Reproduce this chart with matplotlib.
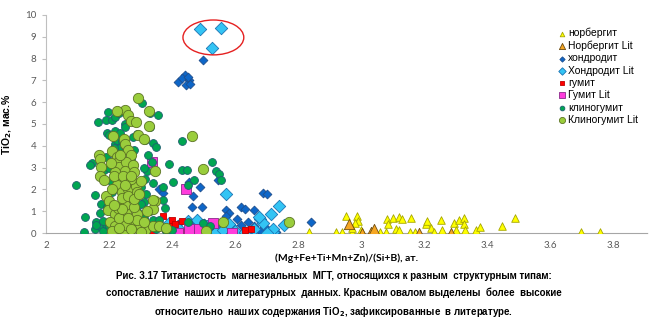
import matplotlib

matplotlib.use("Agg")
import matplotlib.pyplot as plt
from matplotlib import font_manager
from matplotlib.patches import Ellipse
from matplotlib.ticker import MultipleLocator

# data: x = (Mg+Fe+Ti+Mn+Zn)/(Si+B), y = TiO2 wt.%
norb_x = [2.835, 2.92, 2.951, 2.988, 2.99, 2.98, 2.94, 2.97, 3.0, 3.083, 3.085, 3.10, 3.12, 3.13,
          3.157, 3.08, 3.11, 3.12, 3.155, 3.17, 3.205, 3.21, 3.22, 3.23, 3.254, 3.257, 3.294,
          3.30, 3.31, 3.326, 3.326, 3.33, 3.363, 3.377, 3.447, 3.487, 3.698, 3.759, 2.97, 3.06]
norb_y = [0.03, 0.03, 0.78, 0.78, 0.53, 0.45, 0.03, 0.06, 0.13, 0.63, 0.41, 0.67, 0.74, 0.63,
          0.70, 0.03, 0.17, 0.13, 0.03, 0.03, 0.41, 0.55, 0.25, 0.03, 0.58, 0.13, 0.45,
          0.13, 0.61, 0.69, 0.43, 0.13, 0.13, 0.28, 0.34, 0.69, 0.03, 0.03, 0.25, 0.05]

norb_lit_x = [2.962, 3.004, 3.03, 3.04, 3.184, 3.284]
norb_lit_y = [0.42, 0.02, 0.05, 0.18, 0.02, 0.02]

chon_x = [2.498, 2.419, 2.44, 2.454, 2.445, 2.458, 2.43, 2.45, 2.487, 2.466, 2.464, 2.496,
          2.572, 2.58, 2.605, 2.62, 2.63, 2.66, 2.688, 2.70, 2.454, 2.36, 2.37, 2.545, 2.57,
          2.64, 2.66, 2.84, 2.40, 2.42, 2.47, 2.52, 2.55, 2.60, 2.62, 2.68, 2.50, 2.56, 2.45,
          2.38, 2.48, 2.53, 2.59, 2.65, 2.70, 2.73]
chon_y = [7.94, 6.94, 7.25, 7.02, 6.79, 6.83, 7.10, 7.15, 2.12, 1.71, 1.21, 1.21,
          1.06, 0.90, 0.64, 1.21, 1.10, 1.05, 1.85, 1.78, 2.35, 2.00, 1.85, 2.43, 0.80,
          0.50, 0.30, 0.52, 0.20, 0.40, 0.30, 0.10, 0.25, 0.15, 0.35, 0.10, 0.45, 0.05, 0.05,
          0.10, 0.60, 0.40, 0.30, 0.05, 0.20, 0.05]

chon_lit_x = [2.49, 2.556, 2.526, 2.572, 2.74, 2.714, 2.68, 2.69, 2.756, 2.72, 2.54, 2.677,
              2.72, 2.56, 2.45, 2.48, 2.51, 2.60, 2.63, 2.66, 2.42, 2.39, 2.58, 2.47, 2.70]
chon_lit_y = [9.34, 9.39, 8.47, 1.80, 1.22, 0.86, 0.64, 0.44, 0.38, 0.06, 0.05, 0.75,
              0.20, 0.15, 0.55, 0.60, 0.30, 0.10, 0.05, 0.20, 0.25, 0.45, 0.40, 0.10, 0.02]

hum_x = [2.35, 2.40, 2.43, 2.40, 2.63, 2.65, 2.34, 2.287, 2.35, 2.30, 2.37, 2.41, 2.28, 2.44]
hum_y = [0.55, 0.58, 0.55, 0.30, 0.14, 0.20, 0.05, 0.52, 0.52, 0.10, 0.80, 0.40, 0.70, 0.05]

hum_lit_x = [2.336, 2.443, 2.454, 2.485, 2.53, 2.59, 2.42]
hum_lit_y = [3.24, 2.00, 0.18, 0.17, 0.48, 0.01, 0.00]

clin_x = [2.095, 2.123, 2.12, 2.155, 2.145, 2.14, 2.166, 2.197, 2.192, 2.20, 2.19, 2.21,
          2.22, 2.23, 2.25, 2.25, 2.19, 2.22, 2.225, 2.24, 2.235, 2.21, 2.176, 2.17, 2.16,
          2.155, 2.17, 2.18, 2.19, 2.303, 2.33, 2.355, 2.33, 2.29, 2.315, 2.34, 2.35, 2.325,
          2.335, 2.39, 2.371, 2.403, 2.43, 2.447, 2.43, 2.47, 2.45, 2.527, 2.538, 2.55,
          2.556, 2.377, 2.37, 2.318, 2.31, 2.30, 2.498, 2.315, 2.32, 2.20, 2.21, 2.23, 2.26,
          2.28, 2.30, 2.32, 2.34, 2.36, 2.38, 2.24, 2.27, 2.21, 2.29, 2.31, 2.35, 2.45, 2.52,
          2.22, 2.25, 2.28, 2.195, 2.205, 2.215, 2.265, 2.245, 2.30, 2.33, 2.40,
          2.16, 2.18, 2.185, 2.20, 2.215, 2.235, 2.275, 2.31, 2.34, 2.36]
clin_y = [2.20, 0.75, 0.05, 1.75, 3.20, 3.10, 5.10, 5.57, 4.60, 4.50, 5.20, 5.20,
          5.30, 5.50, 5.00, 4.85, 3.50, 4.10, 4.25, 4.20, 3.90, 3.30, 1.33, 0.90, 0.50,
          0.20, 0.30, 0.10, 0.40, 5.95, 5.50, 5.40, 4.85, 4.55, 4.28, 4.11, 3.95, 3.60,
          3.25, 3.16, 2.13, 2.35, 2.89, 2.87, 4.21, 2.45, 2.20, 3.27, 2.85, 2.70,
          2.44, 1.13, 1.50, 1.78, 1.40, 1.35, 0.44, 2.50, 2.85, 0.30, 0.10, 0.60, 0.10,
          0.30, 0.50, 0.20, 0.60, 0.40, 0.10, 2.60, 3.40, 1.90, 1.00, 0.70, 0.20, 0.50, 0.30,
          4.70, 4.00, 3.80, 1.20, 2.40, 0.70, 1.60, 2.90, 2.10, 1.00, 0.15,
          0.35, 0.55, 2.90, 3.00, 3.90, 4.60, 4.40, 3.00, 2.30, 0.60]

clin_lit_x = [2.292, 2.326, 2.326, 2.25, 2.225, 2.26, 2.27, 2.285, 2.213, 2.247, 2.292, 2.31,
              2.464, 2.169, 2.17, 2.175, 2.17, 2.185, 2.21, 2.225, 2.23, 2.23, 2.252, 2.26,
              2.27, 2.255, 2.25, 2.22, 2.276, 2.28, 2.24, 2.225, 2.24, 2.26, 2.287, 2.30,
              2.19, 2.20, 2.197, 2.218, 2.228, 2.255, 2.25, 2.277, 2.288, 2.202, 2.22, 2.235,
              2.25, 2.265, 2.297, 2.313, 2.34, 2.345, 2.34, 2.345, 2.498, 2.563, 2.77, 2.36,
              2.38, 2.508, 2.34, 2.24, 2.21, 2.26, 2.28, 2.23, 2.245, 2.265, 2.30, 2.32,
              2.205, 2.215, 2.245, 2.27, 2.29, 2.235, 2.255,
              2.21, 2.23, 2.27, 2.29, 2.31, 2.24, 2.26, 2.28, 2.215, 2.295, 2.25, 2.27]
clin_lit_y = [6.20, 5.58, 4.90, 5.64, 5.60, 5.40, 5.15, 5.10, 4.45, 4.33, 4.50, 4.30,
              4.46, 3.58, 3.40, 3.05, 2.60, 2.45, 3.75, 3.50, 3.30, 3.05, 4.10, 3.80,
              3.60, 3.25, 2.85, 2.80, 3.10, 2.80, 2.40, 2.20, 1.90, 2.00, 2.15, 2.40,
              1.70, 1.45, 1.05, 0.85, 1.15, 0.93, 1.30, 0.60, 0.85, 0.50, 0.30, 0.15,
              0.50, 0.15, 0.35, 0.15, 0.30, 1.45, 1.10, 2.85, 2.95, 0.50, 0.52, 0.30,
              0.25, 0.09, 1.50, 1.60, 2.00, 1.70, 1.20, 0.70, 0.05, 0.50, 0.05, 1.00,
              3.20, 2.60, 2.60, 2.50, 1.90, 3.60, 0.35,
              0.10, 0.25, 0.20, 0.60, 0.50, 1.10, 0.70, 1.55, 1.30, 1.80, 2.20, 2.60]

legend_labels = ["норбергит", "Норбергит Lit", "хондродит", "Хондродит Lit",
                 "гумит", "Гумит Lit", "клиногумит", "Клиногумит Lit"]

caption = ("Рис. 3.17 Титанистость  магнезиальных  МГТ, относящихся к разным  структурным типам:\n"
           "сопоставление  наших и литературных  данных. Красным овалом выделены  более  высокие\n"
           "относительно  наших содержания TiO$_\\mathbf{2}$, зафиксированные  в литературе.")

plt.rcParams["font.family"] = ["Liberation Sans", "DejaVu Sans"]

# narrow bold face for the caption if one is installed
installed = {f.name for f in font_manager.fontManager.ttflist}
cap_font, cap_size = "Liberation Sans", 7.0
for name, size in [("Liberation Sans Narrow", 8.6), ("DejaVu Sans Condensed", 7.6)]:
    if name in installed:
        cap_font, cap_size = name, size
        break

fig = plt.figure(figsize=(6.67, 3.23), dpi=100)
ax = fig.add_axes([0.069, 0.2786, 0.9025, 0.675])

series = [
    (norb_x, norb_y, "^", 30, "#FFFF00", "#A6A600"),
    (norb_lit_x, norb_lit_y, "^", 55, "#F5A623", "#6B4A10"),
    (chon_x, chon_y, "D", 20, "#0D66C8", "#1F4E8C"),
    (chon_lit_x, chon_lit_y, "D", 40, "#33C4F4", "#1A74B4"),
    (hum_x, hum_y, "s", 22, "#FF0000", "#C00000"),
    (hum_lit_x, hum_lit_y, "s", 60, "#FF3CDC", "#8A2A8A"),
    (clin_x, clin_y, "o", 32, "#00A651", "#1F5F70"),
    (clin_lit_x, clin_lit_y, "o", 55, "#9ACD3C", "#5C7424"),
]
for (xs, ys, m, s, fc, ec), lab in zip(series, legend_labels):
    ax.scatter(xs, ys, marker=m, s=s, facecolor=fc, edgecolor=ec, linewidth=0.6,
               label=lab, zorder=3)

ax.add_patch(Ellipse((2.531, 8.97), 0.193, 1.6, fill=False, edgecolor="#E52020", lw=1.0, zorder=4))

ax.set_xlim(2, 3.91)
ax.set_ylim(0, 10)
ax.yaxis.set_major_locator(MultipleLocator(1))
ax.set_xticks([2, 2.2, 2.4, 2.6, 2.8, 3, 3.2, 3.4, 3.6, 3.8])
ax.set_xticklabels(["2", "2.2", "2.4", "2.6", "2.8", "3", "3.2", "3.4", "3.6", "3.8"])

for sp in ["top", "right"]:
    ax.spines[sp].set_visible(False)
ax.spines["left"].set_color("#BFBFBF")
ax.spines["left"].set_linewidth(0.8)
ax.spines["bottom"].set_color("#A6A6A6")
ax.spines["bottom"].set_linestyle((0, (1, 1)))
ax.spines["bottom"].set_linewidth(0.8)
ax.tick_params(axis="y", direction="out", length=3, color="#BFBFBF", labelsize=7,
               labelcolor="#595959", pad=4)
ax.tick_params(axis="x", length=0, labelsize=7, labelcolor="#595959", pad=6)
for t in ax.get_xticklabels() + ax.get_yticklabels():
    t.set_fontfamily(["Lato", "DejaVu Sans"])

ax.set_ylabel("TiO$_\\mathbf{2}$, мас.%", fontsize=7.5, fontweight="bold", labelpad=8)
ax.set_xlabel("(Mg+Fe+Ti+Mn+Zn)/(Si+B), ат.", fontsize=7.5, fontweight="bold", labelpad=2,
              family=["Lato", "DejaVu Sans"])

leg = ax.legend(loc="upper left", bbox_to_anchor=(0.838, 0.965), frameon=False, fontsize=7.5,
                handletextpad=0.0, labelspacing=0.22, borderpad=0, handlelength=1.2,
                markerscale=0.6)

fig.text(0.5, 0.012, caption, ha="center", va="bottom", fontsize=cap_size, fontweight="bold",
         linespacing=1.75, family=[cap_font, "DejaVu Sans"])

fig.savefig("out.png", dpi=100)
